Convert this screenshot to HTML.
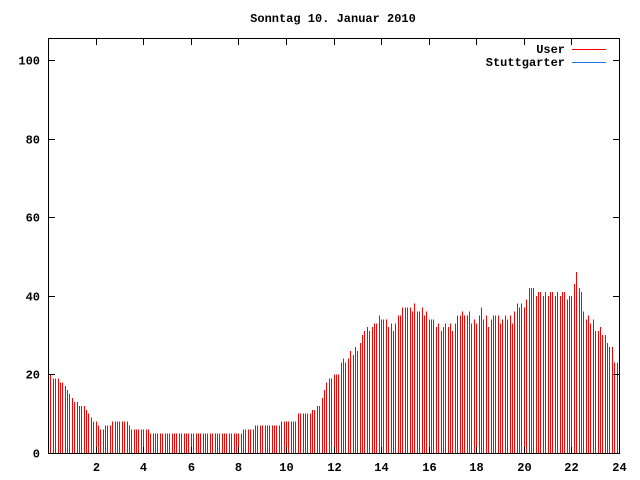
<!DOCTYPE html>
<html><head><meta charset="utf-8"><style>
body{margin:0;background:#fff;}
svg{display:block;font-family:"Liberation Mono",monospace;font-size:12px;font-weight:bold;}
</style></head><body>
<svg id="s" width="640" height="480" xmlns="http://www.w3.org/2000/svg" shape-rendering="crispEdges">
<rect width="640" height="480" fill="#fff"/>
<g id="bars"></g>
<rect x="48.5" y="38.5" width="571" height="415" fill="none" stroke="#000"/>
<g id="ax" stroke="#000"></g>
<g id="lbl" fill="#000"></g>
<text x="333" y="22" text-anchor="middle">Sonntag 10. Januar 2010</text>
<text x="565" y="53" text-anchor="end">User</text>
<line x1="572" y1="49.5" x2="606" y2="49.5" stroke="#f00"/>
<text x="565" y="66" text-anchor="end">Stuttgarter</text>
<line x1="572" y1="62.5" x2="606" y2="62.5" stroke="#1e78e0"/>
</svg>
<script>
var k=[[0,20],[0.3,19],[0.5,18],[0.7,17],[0.9,15],[1.1,13],[1.4,12],[1.6,11],[1.8,9],[2.1,7],[2.3,6],[2.5,7],[2.8,8],[3.2,8],[3.4,7],[3.5,6],[4.2,6],[4.3,5],[8.0,5],[8.3,6],[9.0,7],[9.6,7],[9.8,8],[10.4,8],[10.5,10],[10.9,10],[11.2,11],[11.4,12],[11.5,14],[11.7,18],[11.9,19],[12.0,20],[12.2,19],[12.3,23],[12.6,24],[12.9,26],[13.1,28],[13.3,31],[13.6,32],[13.8,33],[14.0,35],[14.2,33],[14.5,32],[14.8,35],[15.0,38],[15.2,36],[15.4,37],[15.7,36],[16.0,35],[16.2,33],[16.6,32],[17.0,32],[17.3,35],[17.5,36],[17.7,35],[17.9,33],[18.2,36],[18.5,33],[18.8,35],[19.1,34],[19.5,34],[19.7,37],[20.0,38],[20.3,42],[20.5,41],[20.8,40],[21.0,41],[21.3,40],[21.6,41],[21.8,39],[22.0,41],[22.2,45],[22.4,40],[22.6,34],[22.9,33],[23.1,31],[23.3,30],[23.5,29],[23.7,26],[23.9,22],[24,22]];
function val(h){for(var i=0;i<k.length-1;i++){if(h>=k[i][0]&&h<=k[i+1][0]){var t=(h-k[i][0])/(k[i+1][0]-k[i][0]);return k[i][1]+t*(k[i+1][1]-k[i][1]);}}return 22;}
var b='';var n=240;
for(var i=0;i<n;i++){var h=i*24/n;var v=val(h);if(h>12)v+=((i*7)%5-2)*0.5;v=Math.round(v);
var x=Math.round(48+i*571/n)+0.5;var y=453-v*3.93;
b+='<line x1="'+x+'" y1="453" x2="'+x+'" y2="'+y.toFixed(1)+'" stroke="#f00"/>';}
document.getElementById('bars').innerHTML=b;
var a='',l='';
for(var j=0;j<=12;j++){var x=Math.round(48+j*571/12)+0.5;a+='<line x1="'+x+'" y1="453" x2="'+x+'" y2="447"/><line x1="'+x+'" y1="39" x2="'+x+'" y2="45"/>';if(j>0)l+='<text x="'+x+'" y="471" text-anchor="middle">'+(j*2)+'</text>';}
for(var v=0;v<=100;v+=20){var y=Math.round(453-v*3.93)+0.5;a+='<line x1="49" y1="'+y+'" x2="55" y2="'+y+'"/><line x1="619" y1="'+y+'" x2="613" y2="'+y+'"/>';l+='<text x="40" y="'+(y+4)+'" text-anchor="end">'+v+'</text>';}
document.getElementById('ax').innerHTML=a;document.getElementById('lbl').innerHTML=l;
</script>
</body></html>
